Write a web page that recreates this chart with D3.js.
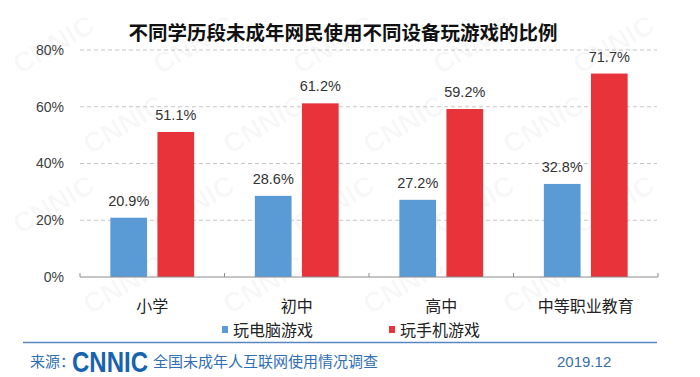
<!DOCTYPE html>
<html>
<head>
<meta charset="utf-8">
<script src="https://cdn.jsdelivr.net/npm/d3@7"></script>
<style>
  html, body { margin: 0; padding: 0; background: #fff; }
  svg { display: block; }
</style>
</head>
<body>
<div id="chart"></div>
<script>
// Data
const categories = ["小学", "初中", "高中", "中等职业教育"];
const seriesNames = ["玩电脑游戏", "玩手机游戏"];
const pcValues = [0.209, 0.286, 0.272, 0.328];
const mobileValues = [0.511, 0.612, 0.592, 0.717];
const yTicks = [0, 0.2, 0.4, 0.6, 0.8];

const width = 700, height = 377;
const colors = ["#5b9bd5", "#e8333a"];
const numFont = "'Liberation Sans', Arial, sans-serif";
const cjkFont = "'Noto Sans CJK SC', 'Noto Sans', sans-serif";

const rows = categories.map((c, i) => ({ cat: c, values: [pcValues[i], mobileValues[i]] }));

const svg = d3.select("#chart").append("svg")
  .attr("width", width)
  .attr("height", height)
  .attr("viewBox", [0, 0, width, height]);

// faint watermark, kept inside the frame
const wm = svg.append("g").attr("fill", "#000").attr("fill-opacity", 0.03)
  .attr("font-family", numFont).attr("font-weight", "bold").attr("font-size", 28);
for (let r = 0; r < 4; r++) {
  for (let c = 0; c < 5; c++) {
    const x = 20 + c * 140 + (r % 2) * 70;
    const y = 75 + r * 80;
    if (x > 590) continue;
    wm.append("text").attr("transform", `translate(${x},${y}) rotate(-30)`).text("CNNIC");
  }
}

// scales
const x0 = d3.scaleBand().domain(categories).range([80, 658]).paddingInner(0.42).paddingOuter(0.21);
const x1 = d3.scaleBand().domain([0, 1]).range([0, x0.bandwidth()]).paddingInner(0.22).paddingOuter(0);
const y = d3.scaleLinear().domain([0, 0.8]).range([277, 50]);

// band edges for axis ticks
const step = x0.step();
const bandStart = 80;

// title
svg.append("text")
  .attr("x", 343).attr("y", 40)
  .attr("text-anchor", "middle")
  .attr("font-family", cjkFont).attr("font-weight", 700)
  .attr("font-size", 19.5).attr("fill", "#111")
  .text("不同学历段未成年网民使用不同设备玩游戏的比例");

// gridlines
svg.append("g").selectAll("line")
  .data(yTicks.filter(d => d > 0))
  .join("line")
  .attr("x1", 80).attr("x2", 657)
  .attr("y1", d => y(d)).attr("y2", d => y(d))
  .attr("stroke", "#c6c6c6").attr("stroke-width", 1)
  .attr("stroke-dasharray", "4,3");

// y labels
const yAxis = d3.axisLeft(y).tickValues(yTicks).tickFormat(d3.format(".0%")).tickSize(0).tickPadding(0);
const yg = svg.append("g").attr("transform", "translate(64,0)").call(yAxis);
yg.select(".domain").remove();
yg.selectAll("text")
  .attr("font-family", numFont).attr("font-size", 14).attr("fill", "#404040");

// bars
const groups = svg.append("g").selectAll("g")
  .data(rows)
  .join("g")
  .attr("transform", d => `translate(${x0(d.cat)},0)`);

groups.selectAll("rect")
  .data(d => d.values.map((v, i) => ({ v, i })))
  .join("rect")
  .attr("x", d => x1(d.i))
  .attr("width", x1.bandwidth())
  .attr("y", d => y(d.v))
  .attr("height", d => y(0) - y(d.v))
  .attr("fill", d => colors[d.i]);

groups.selectAll("text")
  .data(d => d.values.map((v, i) => ({ v, i })))
  .join("text")
  .attr("x", d => x1(d.i) + x1.bandwidth() / 2)
  .attr("y", d => y(d.v) - 12)
  .attr("text-anchor", "middle")
  .attr("font-family", numFont).attr("font-size", 14.5).attr("fill", "#333")
  .text(d => d3.format(".1%")(d.v));

// x axis line with upward ticks at band edges
const axisG = svg.append("g");
axisG.append("line")
  .attr("x1", 80).attr("x2", 658)
  .attr("y1", y(0)).attr("y2", y(0))
  .attr("stroke", "#8c8c8c").attr("stroke-width", 1);
axisG.selectAll("line.tick")
  .data(d3.range(categories.length + 1))
  .join("line")
  .attr("class", "tick")
  .attr("x1", i => bandStart + i * step).attr("x2", i => bandStart + i * step)
  .attr("y1", y(0)).attr("y2", y(0) - 4)
  .attr("stroke", "#8c8c8c").attr("stroke-width", 1);

// category labels
svg.append("g").selectAll("text")
  .data(categories)
  .join("text")
  .attr("x", d => x0(d) + x0.bandwidth() / 2)
  .attr("y", 312)
  .attr("text-anchor", "middle")
  .attr("font-family", cjkFont).attr("font-size", 16).attr("fill", "#222")
  .text(d => d);

// legend
const legendX = [222, 389];
const legend = svg.append("g").selectAll("g")
  .data(seriesNames)
  .join("g")
  .attr("transform", (d, i) => `translate(${legendX[i]},330)`);
legend.append("rect")
  .attr("x", 0).attr("y", -4).attr("width", 6).attr("height", 7)
  .attr("fill", (d, i) => colors[i]);
legend.append("text")
  .attr("x", 11).attr("y", 6)
  .attr("font-family", cjkFont).attr("font-size", 16).attr("fill", "#222")
  .text(d => d);

// footer
svg.append("line")
  .attr("x1", 23).attr("x2", 657)
  .attr("y1", 342.5).attr("y2", 342.5)
  .attr("stroke", "#5a86c0").attr("stroke-width", 1.5);

svg.append("text")
  .attr("x", 30).attr("y", 367)
  .attr("font-family", cjkFont).attr("font-size", 15).attr("fill", "#2f6fb3")
  .text("来源：");

svg.append("text")
  .attr("x", 72).attr("y", 372)
  .attr("textLength", 76).attr("lengthAdjust", "spacingAndGlyphs")
  .attr("font-family", numFont).attr("font-weight", "bold")
  .attr("font-size", 30).attr("fill", "#1763b0")
  .text("CNNIC");

svg.append("text")
  .attr("x", 153).attr("y", 367)
  .attr("font-family", cjkFont).attr("font-size", 15).attr("fill", "#2f6fb3")
  .text("全国未成年人互联网使用情况调查");

svg.append("text")
  .attr("x", 557).attr("y", 367)
  .attr("font-family", numFont).attr("font-size", 15).attr("fill", "#3a6ea5")
  .text("2019.12");
</script>
</body>
</html>
